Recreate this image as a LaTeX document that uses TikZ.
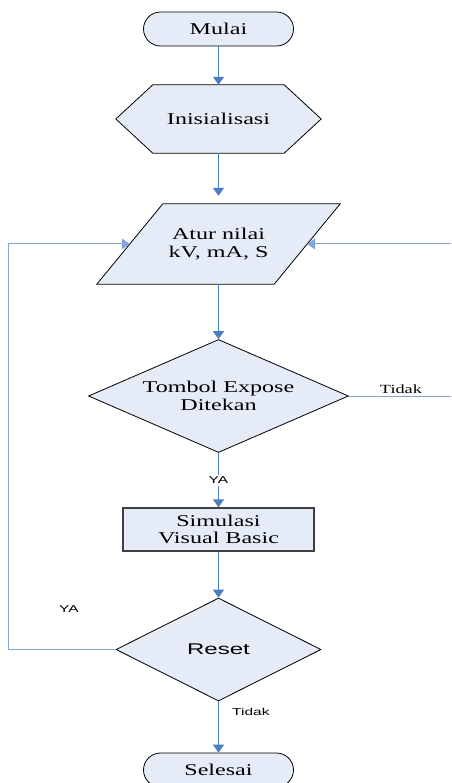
\documentclass[tikz,border=0pt]{standalone}
\usepackage{fontspec}
\usetikzlibrary{shapes.geometric,arrows.meta,backgrounds}
\newfontfamily\lserif[FakeStretch=1.46]{Liberation Serif}
\newfontfamily\lsans[FakeStretch=1.55]{Liberation Sans}
\definecolor{flow}{RGB}{74,126,193}
\definecolor{loopc}{RGB}{130,165,220}
\definecolor{boxfill}{RGB}{230,236,247}
\begin{document}
\begin{tikzpicture}[x=1pt,y=-1pt,
  shapebox/.style={draw=black, line width=0.8pt, fill=boxfill, inner sep=0pt, align=center,
    font=\lserif\fontsize{16.5}{17.3}\selectfont},
  term/.style={shapebox, rectangle, rounded corners=17pt, minimum width=150pt, minimum height=34pt},
  plainbox/.style={rectangle, inner sep=0pt, align=center,
    font=\lserif\fontsize{16.5}{17.3}\selectfont},
  outline/.style={draw=black, line width=0.8pt, fill=boxfill},
  decision/.style={shapebox, diamond},
  procbox/.style={shapebox, rectangle, draw=black!75, line width=1.4pt, minimum width=191pt, minimum height=43pt},
  flowarrow/.style={draw=flow, line width=1.4pt, -{Triangle[width=11pt,length=8pt]}},
  looparrow/.style={draw=loopc, line width=1pt, -{Triangle[width=11pt,length=8pt]}},
  loopline/.style={draw=loopc, line width=1pt},
  smalllabel/.style={font=\lsans\fontsize{10}{12}\selectfont, inner sep=1pt},
]
\useasboundingbox (0,0) rectangle (451,783);
\clip (0,0) rectangle (451,783);

\node[term] (mulai) at (218.5,29) {Mulai};
\node[plainbox, minimum width=205pt, minimum height=68pt] (init) at (218.5,119) {Inisialisasi};
\node[plainbox, minimum width=243pt, minimum height=80pt] (atur) at (218.5,244) {Atur nilai\\kV, mA, S};
\begin{scope}[on background layer]
  \draw[outline] (init.west) -- ([xshift=37pt]init.north west) -- ([xshift=-37pt]init.north east)
    -- (init.east) -- ([xshift=-37pt]init.south east) -- ([xshift=37pt]init.south west) -- cycle;
  \draw[outline] ([xshift=66pt]atur.north west) -- (atur.north east)
    -- ([xshift=-66pt]atur.south east) -- (atur.south west) -- cycle;
\end{scope}
\node[decision, aspect=2.3, minimum width=260pt, minimum height=113pt] (tombol) at (218.5,396)
  {Tombol Expose\\Ditekan};
\node[procbox] (sim) at (218.5,529.5) {Simulasi\\Visual Basic};
\node[decision, aspect=2, minimum width=205pt, minimum height=103pt,
  font=\lsans\fontsize{15.5}{17}\selectfont] (reset) at (218.5,649.5) {Reset};
\node[term] (selesai) at (218.5,770) {Selesai};

\coordinate (rtop) at (453,244);
\coordinate (rbot) at (453,396);
\coordinate (ltop) at (8,244);
\coordinate (lbot) at (8,649.5);

\draw[flowarrow] (mulai.south) -- (init.north);
\draw[flowarrow, shorten >=8pt] (init.south) -- (atur.north);
\draw[flowarrow] (atur.south) -- (tombol.north);
\draw[flowarrow] (tombol.south) -- node[fill=white, smalllabel, inner sep=2pt] (ya1) {YA} (sim.north);
\draw[flowarrow] (sim.south) -- (reset.north);
\draw[flowarrow] (reset.south) -- node[pos=0.2, anchor=west, smalllabel, xshift=12pt] (tidak2) {Tidak} (selesai.north);

\draw[loopline] (tombol.east) -- node[pos=0.5, above, font=\lserif\fontsize{12.5}{14}\selectfont, inner sep=2pt] (tidak1) {Tidak} (rbot) -- (rtop);
\draw[looparrow] (rtop) -- ([xshift=-33pt]atur.east);
\draw[looparrow] (reset.west) -- (lbot) -- (ltop) -- ([xshift=33pt]atur.west);
\node[smalllabel] (ya2) at (69,609) {YA};
\end{tikzpicture}
\end{document}
